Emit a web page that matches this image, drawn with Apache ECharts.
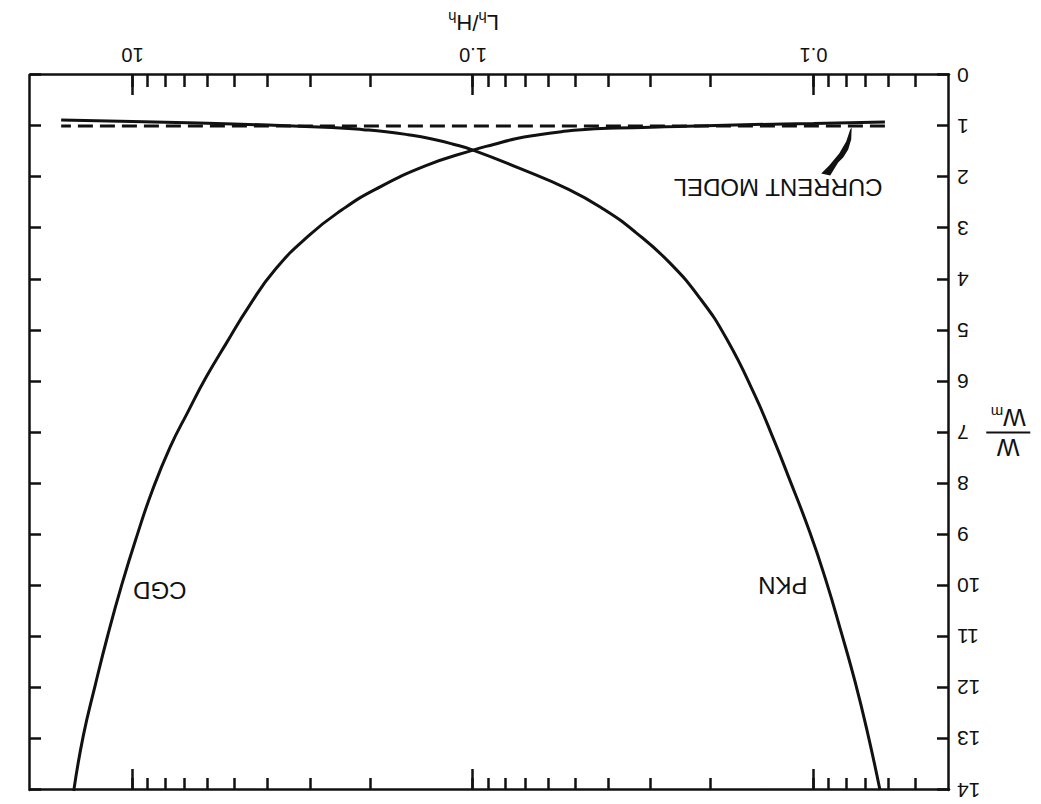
<!DOCTYPE html>
<html>
<head>
<meta charset="utf-8">
<script src="https://cdn.jsdelivr.net/npm/echarts@6/dist/echarts.min.js"></script>
<style>
html,body{margin:0;padding:0;background:#fff;overflow:hidden;}
#chart{width:1041px;height:804px;transform:rotate(180deg);transform-origin:50% 50%;}
</style>
</head>
<body>
<div id="chart"></div>
<script>
// ---- data ----
const xMinorTickValues = [0.05,0.06,0.07,0.08,0.09,0.1,0.2,0.3,0.4,0.5,0.6,0.7,0.8,0.9,1,2,3,4,5,6,7,8,9,10];
const xMajorTickValues = [0.1,1,10];
const xLabelValues = [0.1,1,10];
const yTickLabels = [0,1,2,3,4,5,6,7,8,9,10,11,12,13,14];

const pknX = [0.0638,0.0691,0.0755,0.083,0.0917,0.1027,0.119,0.1301,0.1487,0.180,0.215,0.266,0.333,0.413,0.524,0.735,1.0,1.15,1.33,1.55,1.8,2.1,2.6,4.0,6.4,10.0,16.2];
const pknW = [14.0,12.93,11.88,10.90,9.92,8.94,7.83,7.18,6.27,5.165,4.38,3.66,3.08,2.63,2.24,1.82,1.47,1.35,1.25,1.17,1.11,1.07,1.03,0.98,0.94,0.91,0.88];

const cgdX = [0.0617,0.1,0.15,0.25,0.38,0.48,0.55,0.64,0.75,0.87,1.0,1.381,1.936,2.425,3.03,3.80,4.54,5.30,6.07,6.88,7.76,8.75,9.68,10.75,11.82,12.87,13.95,14.88];
const cgdW = [0.92,0.95,0.97,1.01,1.04,1.07,1.11,1.17,1.25,1.36,1.47,1.78,2.24,2.64,3.14,3.80,4.52,5.25,5.91,6.60,7.29,8.14,9.00,9.98,10.97,11.95,12.94,14.02];

const modelX = [0.0617,16.2];
const modelW = [1.0,1.0];

const labelTexts = ['PKN','CGD','CURRENT MODEL'];
const labelX = [0.123,8.31,0.127];
const labelW = [10.0,10.1,2.2];

const arrowTip = [0.0775,1.03];

// ---- chart ----
const FONT = "'Liberation Sans', Arial, Helvetica, sans-serif";
const INK = '#111';
const zip = (xs, ys) => xs.map((x, i) => [x, ys[i]]);

const chart = echarts.init(document.getElementById('chart'), null, {renderer: 'svg'});

const logBase = {type: 'log', logBase: 10, min: 0.04, max: 20, gridIndex: 0, splitLine: {show: false}, minorTick: {show: false}};
const lineStyle = {color: INK, width: 2.5};

const option = {
  backgroundColor: '#fff',
  animation: false,
  textStyle: {fontFamily: FONT, color: INK},
  grid: {left: 92, right: 30, top: 14, bottom: 75, containLabel: false},
  xAxis: [
    Object.assign({}, logBase, {
      position: 'bottom',
      axisLine: {show: true, onZero: false, lineStyle: lineStyle},
      axisTick: {show: true, inside: true, length: 12, lineStyle: lineStyle, customValues: xMinorTickValues},
      axisLabel: {show: true, customValues: xLabelValues, fontSize: 20, color: INK, fontFamily: FONT, margin: 10,
        formatter: v => (Math.abs(v - 1) < 1e-9 ? '1.0' : (Math.abs(v - 0.1) < 1e-9 ? '0.1' : String(Math.round(v))))},
      name: 'L{s|h}/H{s|h}',
      nameLocation: 'middle',
      nameGap: 40,
      nameTextStyle: {fontSize: 22, color: INK, fontFamily: FONT, padding: [0, 0, 0, 32], verticalAlign: 'top',
        rich: {s: {fontSize: 15, fontFamily: FONT, color: INK, padding: [10, 0, 0, 0], verticalAlign: 'top'}}}
    }),
    Object.assign({}, logBase, {
      position: 'bottom',
      axisLine: {show: false, onZero: false},
      axisTick: {show: true, inside: true, length: 20, lineStyle: lineStyle, customValues: xMajorTickValues},
      axisLabel: {show: false}
    }),
    Object.assign({}, logBase, {
      position: 'top',
      axisLine: {show: true, onZero: false, lineStyle: lineStyle},
      axisTick: {show: true, inside: true, length: 12, lineStyle: lineStyle, customValues: xMinorTickValues},
      axisLabel: {show: false}
    }),
    Object.assign({}, logBase, {
      position: 'top',
      axisLine: {show: false, onZero: false},
      axisTick: {show: true, inside: true, length: 21, lineStyle: lineStyle, customValues: xMajorTickValues},
      axisLabel: {show: false}
    })
  ],
  yAxis: [
    {
      type: 'value', min: 0, max: 14, interval: 1, position: 'left', gridIndex: 0,
      axisLine: {show: true, onZero: false, lineStyle: lineStyle},
      axisTick: {show: true, inside: true, length: 12, lineStyle: lineStyle},
      axisLabel: {show: true, fontSize: 21, color: INK, fontFamily: FONT, margin: 8,
        formatter: v => String(yTickLabels[Math.round(v)])},
      splitLine: {show: false},
      name: '{w|W}\n{bar| }\n{w|W}{m|m}',
      nameLocation: 'middle',
      nameRotate: 0,
      nameGap: 35,
      nameTextStyle: {
        color: INK, fontFamily: FONT, align: 'center',
        rich: {
          w: {fontSize: 24, lineHeight: 24, fontFamily: FONT, color: INK, align: 'center'},
          bar: {width: 44, height: 2, lineHeight: 6, backgroundColor: INK, fontSize: 2, align: 'center'},
          m: {fontSize: 15, lineHeight: 24, fontFamily: FONT, color: INK, padding: [10, 0, 0, 0]}
        }
      }
    },
    {
      type: 'value', min: 0, max: 14, interval: 1, position: 'right', gridIndex: 0,
      axisLine: {show: true, onZero: false, lineStyle: lineStyle},
      axisTick: {show: true, inside: true, length: 11, lineStyle: lineStyle},
      axisLabel: {show: false},
      splitLine: {show: false}
    }
  ],
  series: [
    {
      name: 'PKN', type: 'line', xAxisIndex: 0, yAxisIndex: 0,
      data: zip(pknX, pknW), showSymbol: false, smooth: 0.5,
      lineStyle: {color: INK, width: 3}, z: 3,
      markPoint: {
        symbol: 'circle', symbolSize: 0, silent: true,
        label: {show: true, position: 'inside', fontSize: 24, color: INK, fontFamily: FONT, formatter: p => p.name},
        data: [
          {name: labelTexts[0], coord: [labelX[0], labelW[0]]},
          {name: labelTexts[1], coord: [labelX[1], labelW[1]]},
          {name: labelTexts[2], coord: [labelX[2], labelW[2]]}
        ]
      }
    },
    {
      name: 'CGD', type: 'line', xAxisIndex: 0, yAxisIndex: 0,
      data: zip(cgdX, cgdW), showSymbol: false, smooth: 0.5,
      lineStyle: {color: INK, width: 3}, z: 3
    },
    {
      name: 'CURRENT MODEL', type: 'line', xAxisIndex: 0, yAxisIndex: 0,
      data: zip(modelX, modelW), showSymbol: false,
      lineStyle: {color: INK, width: 3, type: [15, 7]}, z: 2
    }
  ]
};
chart.setOption(option);

// leader arrow from "CURRENT MODEL" to the dashed line (shape offsets relative to the tip)
const tip = chart.convertToPixel({xAxisIndex: 0, yAxisIndex: 0}, arrowTip);
const wedge = [[0.5,0],[0,-12],[-3,-22],[-8,-30],[-13,-35],[-21,-48],[-30,-46],[-22,-38],[-12,-26],[-5,-14],[-1,-2]];
chart.setOption({
  graphic: [{
    type: 'polygon', silent: true, z: 10,
    shape: {points: wedge.map(p => [tip[0] - p[0], tip[1] + p[1]])},
    style: {fill: INK}
  }]
});
</script>
</body>
</html>
